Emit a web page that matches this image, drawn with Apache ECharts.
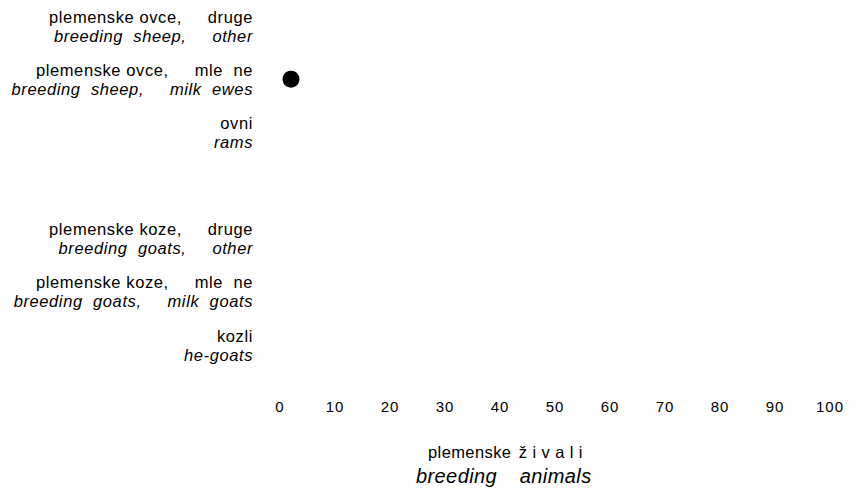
<!DOCTYPE html>
<html>
<head>
<meta charset="utf-8">
<script src="https://cdn.jsdelivr.net/npm/echarts@6/dist/echarts.min.js"></script>
<style>html,body{margin:0;padding:0;background:#fff}#c{width:856px;height:491px}</style>
</head>
<body>
<div id="c"></div>
<script>
var categoriesSl = ['plemenske ovce,     druge', 'plemenske ovce,     mle  ne', 'ovni', '', 'plemenske koze,     druge', 'plemenske koze,     mle  ne', 'kozli'];
var categoriesEn = ['breeding  sheep,     other', 'breeding  sheep,     milk  ewes', 'rams', '', 'breeding  goats,     other', 'breeding  goats,     milk  goats', 'he-goats'];
var values = [null, 2, null, null, null, null, null];
var xTicks = [0, 10, 20, 30, 40, 50, 60, 70, 80, 90, 100];
var axisTitleSlA = 'plemenske';
var axisTitleSlB = 'živali';
var axisTitleEnA = 'breeding';
var axisTitleEnB = 'animals';

var chart = echarts.init(document.getElementById('c'), null, {renderer: 'svg'});
var font = 'Liberation Sans, Arial, sans-serif';
chart.setOption({
  animation: false,
  grid: {left: 280, right: 26, top: 26, bottom: 146},
  xAxis: {
    type: 'value', min: 0, max: 100, interval: 10,
    axisLine: {show: false}, axisTick: {show: false}, splitLine: {show: false},
    axisLabel: {margin: 54, fontFamily: font, fontSize: 15, color: '#000',
      formatter: function (v) { return xTicks.indexOf(v) >= 0 ? String(v) : ''; }}
  },
  yAxis: {
    type: 'category', inverse: true, boundaryGap: false,
    data: categoriesSl.map(function (s, i) { return s ? '{a|' + s + '}\n{b|' + categoriesEn[i] + '}' : ''; }),
    axisLine: {show: false}, axisTick: {show: false}, splitLine: {show: false},
    axisLabel: {margin: 27, align: 'right',
      rich: {
        a: {fontFamily: font, fontSize: 16.5, color: '#000', lineHeight: 19, align: 'right'},
        b: {fontFamily: font, fontSize: 16.5, fontStyle: 'italic', color: '#000', lineHeight: 19, align: 'right'}
      }}
  },
  graphic: [
    {type: 'text', left: 428, top: 443,
      style: {text: '{a|' + axisTitleSlA + '}{s| }{b|' + axisTitleSlB + '}', fill: '#000',
        rich: {
          a: {fontFamily: font, fontSize: 16.5, fill: '#000'},
          s: {fontFamily: font, fontSize: 16.5, width: 11},
          b: {fontFamily: font, fontSize: 16.5, fill: '#000'}
        }}},
    {type: 'text', left: 416, top: 466,
      style: {text: '{a|' + axisTitleEnA + '}{s| }{b|' + axisTitleEnB + '}', fill: '#000',
        rich: {
          a: {fontFamily: font, fontSize: 20, fontStyle: 'italic', fill: '#000'},
          s: {fontFamily: font, fontSize: 20, width: 26},
          b: {fontFamily: font, fontSize: 20, fontStyle: 'italic', fill: '#000'}
        }}}
  ],
  series: [{
    type: 'scatter', symbol: 'circle', symbolSize: 17,
    itemStyle: {color: '#000', opacity: 1},
    data: values.map(function (v, i) { return v == null ? null : [v, i]; })
  }]
});

// letter spacing of the original typesetting
function spaceLetters() {
  var texts = document.querySelectorAll('#c svg text');
  texts.forEach(function (t) {
    var s = t.textContent;
    var ls = '0.6px';
    if (/^\d+$/.test(s)) ls = '1px';
    else if (s === axisTitleSlB) ls = '5.4px';
    else if (s === axisTitleSlA || s === axisTitleEnA || s === axisTitleEnB) ls = '0.4px';
    t.setAttribute('letter-spacing', ls);
  });
}
spaceLetters();
chart.on('finished', spaceLetters);
</script>
</body>
</html>
